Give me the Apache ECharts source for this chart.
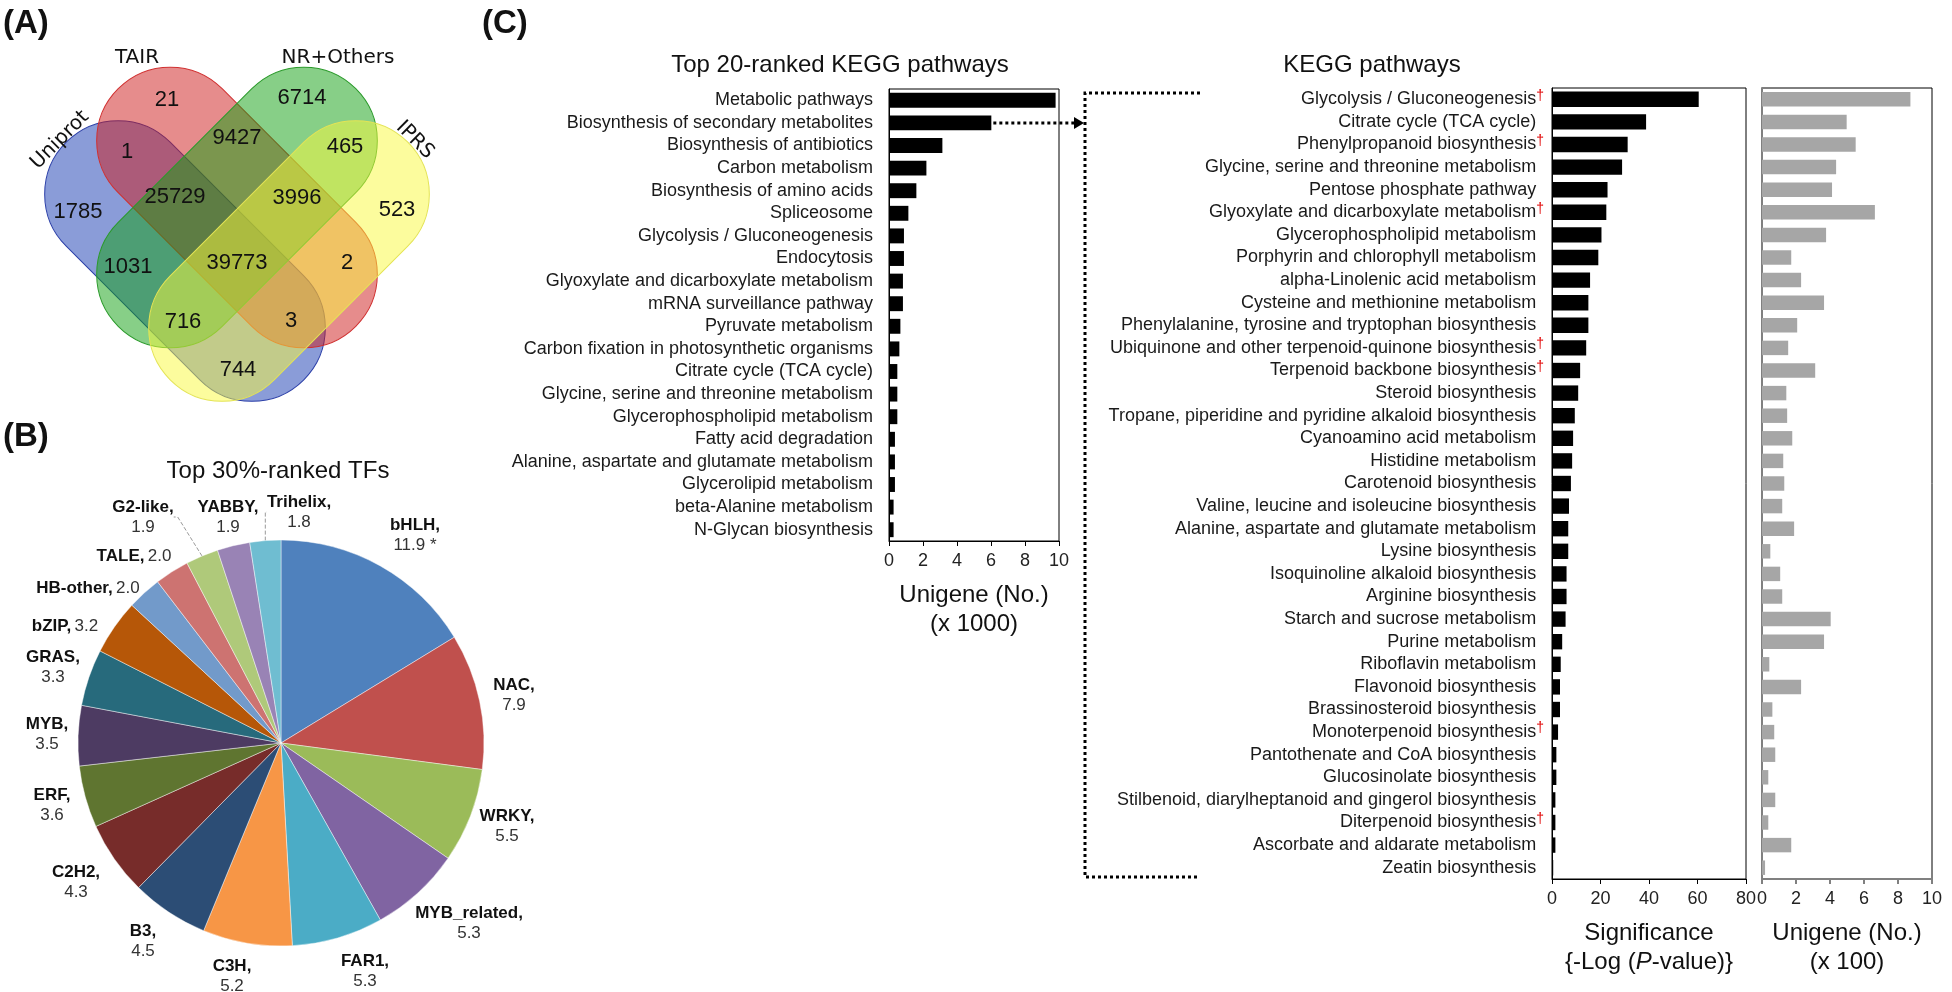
<!DOCTYPE html>
<html><head><meta charset="utf-8">
<script src="https://cdn.jsdelivr.net/npm/echarts@6/dist/echarts.min.js"></script>
<style>html,body{margin:0;padding:0;background:#fff}#c{width:1952px;height:992px}</style>
</head><body><div id="c"></div>
<script>
// ---------------- DATA ----------------
const vennSets = ['Uniprot', 'TAIR', 'NR+Others', 'IPRS'];
const vennCounts = [21, 6714, 1, 9427, 465, 1785, 25729, 3996, 523, 1031, 39773, 2, 716, 3, 744];

const tfNames = ['bHLH','NAC','WRKY','MYB_related','FAR1','C3H','B3','C2H2','ERF','MYB','GRAS','bZIP','HB-other','TALE','G2-like','YABBY','Trihelix'];
const tfValues = [11.9, 7.9, 5.5, 5.3, 5.3, 5.2, 4.5, 4.3, 3.6, 3.5, 3.3, 3.2, 2.0, 2.0, 1.9, 1.9, 1.8];
const tfNotes = [' *','','','','','','','','','','','','','','','',''];

const topCats = ['Metabolic pathways','Biosynthesis of secondary metabolites','Biosynthesis of antibiotics','Carbon metabolism','Biosynthesis of amino acids','Spliceosome','Glycolysis / Gluconeogenesis','Endocytosis','Glyoxylate and dicarboxylate metabolism','mRNA surveillance pathway','Pyruvate metabolism','Carbon fixation in photosynthetic organisms','Citrate cycle (TCA cycle)','Glycine, serine and threonine metabolism','Glycerophospholipid metabolism','Fatty acid degradation','Alanine, aspartate and glutamate metabolism','Glycerolipid metabolism','beta-Alanine metabolism','N-Glycan biosynthesis'];
const topUnigene = [9.80, 6.02, 3.14, 2.20, 1.61, 1.14, 0.88, 0.88, 0.82, 0.82, 0.67, 0.61, 0.49, 0.49, 0.49, 0.35, 0.35, 0.35, 0.27, 0.27];

const keggCats = ['Glycolysis / Gluconeogenesis','Citrate cycle (TCA cycle)','Phenylpropanoid biosynthesis','Glycine, serine and threonine metabolism','Pentose phosphate pathway','Glyoxylate and dicarboxylate metabolism','Glycerophospholipid metabolism','Porphyrin and chlorophyll metabolism','alpha-Linolenic acid metabolism','Cysteine and methionine metabolism','Phenylalanine, tyrosine and tryptophan biosynthesis','Ubiquinone and other terpenoid-quinone biosynthesis','Terpenoid backbone biosynthesis','Steroid biosynthesis','Tropane, piperidine and pyridine alkaloid biosynthesis','Cyanoamino acid metabolism','Histidine metabolism','Carotenoid biosynthesis','Valine, leucine and isoleucine biosynthesis','Alanine, aspartate and glutamate metabolism','Lysine biosynthesis','Isoquinoline alkaloid biosynthesis','Arginine biosynthesis','Starch and sucrose metabolism','Purine metabolism','Riboflavin metabolism','Flavonoid biosynthesis','Brassinosteroid biosynthesis','Monoterpenoid biosynthesis','Pantothenate and CoA biosynthesis','Glucosinolate biosynthesis','Stilbenoid, diarylheptanoid and gingerol biosynthesis','Diterpenoid biosynthesis','Ascorbate and aldarate metabolism','Zeatin biosynthesis'];
const keggDagger = [1,0,1,0,0,1,0,0,0,0,0,1,1,0,0,0,0,0,0,0,0,0,0,0,0,0,0,0,1,0,0,0,1,0,0];
const keggSignificance = [60.5, 38.8, 31.2, 28.9, 22.9, 22.4, 20.4, 19.1, 15.7, 15.0, 15.0, 14.1, 11.6, 10.8, 9.4, 8.7, 8.3, 7.8, 7.0, 6.7, 6.7, 6.0, 6.0, 5.6, 4.2, 3.6, 3.3, 3.3, 2.5, 1.8, 1.8, 1.4, 1.4, 1.4, 0.5];
const keggUnigene = [8.73, 4.98, 5.51, 4.36, 4.12, 6.64, 3.77, 1.72, 2.30, 3.65, 2.07, 1.54, 3.13, 1.43, 1.48, 1.78, 1.25, 1.31, 1.19, 1.89, 0.49, 1.07, 1.19, 4.04, 3.65, 0.43, 2.30, 0.61, 0.72, 0.78, 0.37, 0.78, 0.37, 1.72, 0.18];

// ---------------- LAYOUT / STYLE ----------------
const F = '"Liberation Sans", Arial, Helvetica, sans-serif';
const tfColors = ['#4F81BD','#C0504D','#9BBB59','#8064A2','#4BACC6','#F79646','#2C4D75','#772C2A','#5F7530','#4D3B62','#276A7C','#B65708','#729ACA','#CD7371','#AFC97A','#9983B5','#6FBDD1'];
const pieLabelPos = [[415,535],[514,695],[507,826],[469,923],[365,971],[232,976],[143,941],[76,882],[52,805],[47,734],[53,667],[65,626],[88,588],[134,556],[143,517],[228,517],[299,512]];
const pieOneLine = [0,0,0,0,0,0,0,0,0,0,0,1,1,1,0,0,0];
const pieGuide = [0,0,0,0,0,0,0,0,0,0,0,0,0,0,1,0,1];

const vennRegionPos = [[167,100],[302,98],[127,152],[237,138],[345,147],[78,212],[175,197],[297,198],[397,210],[128,267],[237,263],[347,263],[183,322],[291,321],[238,370]];
const vennLabelPos = [[60,140,Math.PI/4],[137,58,0],[338,58,0],[415,140,-Math.PI/4]];
const vennShapes = [
  {c:[185,261], rot:-Math.PI/4, fill:'rgba(21,57,177,0.5)', stroke:'#2b3fa8'},
  {c:[237,207.5], rot:-Math.PI/4, fill:'rgba(205,25,25,0.5)', stroke:'#d03030'},
  {c:[237,207.5], rot:Math.PI/4, fill:'rgba(15,160,15,0.5)', stroke:'#2a9a2a'},
  {c:[289,261], rot:Math.PI/4, fill:'rgba(250,250,60,0.5)', stroke:'#e4e455'}
];
const capL = 336, capW = 147;

const chart = echarts.init(document.getElementById('c'), null, {renderer:'canvas', width:1952, height:992});

function xAxisBase(grid, max, interval, name, color, width) {
  return {
    gridIndex: grid, type:'value', min:0, max:max, interval:interval,
    splitLine:{show:false},
    axisLine:{show:true, onZero:false, lineStyle:{color:color, width:width}},
    axisTick:{show:true, length:5, inside:false, lineStyle:{color:color, width:width}},
    axisLabel:{fontFamily:F, fontSize:18, color:'#222', margin:11},
    name:name, nameLocation:'middle', nameGap:40,
    nameTextStyle:{fontFamily:F, fontSize:24, lineHeight:29, color:'#111', verticalAlign:'top',
      rich:{a:{fontFamily:F, fontSize:24, lineHeight:29, color:'#111'}, i:{fontFamily:F, fontSize:24, lineHeight:29, fontStyle:'italic', color:'#111'}}}
  };
}

const option = {
  animation:false,
  backgroundColor:'#fff',
  textStyle:{fontFamily:F},
  grid:[
    {left:889, top:89, width:170, height:452, show:true, borderColor:'#000', borderWidth:1, containLabel:false},
    {left:1552, top:88, width:194, height:791, show:true, borderColor:'#000', borderWidth:1, containLabel:false},
    {left:1762, top:88, width:170, height:791, show:true, borderColor:'#000', borderWidth:1, containLabel:false}
  ],
  xAxis:[
    xAxisBase(0, 10, 2, 'Unigene (No.)\n(x 1000)', '#000', 1),
    xAxisBase(1, 80, 20, '{a|Significance}\n{a|{-Log (}{i|P}{a|-value)}}', '#000', 1),
    xAxisBase(2, 10, 2, 'Unigene (No.)\n(x 100)', '#808080', 2)
  ],
  yAxis:[
    {gridIndex:0, type:'category', data:topCats, inverse:true,
     axisLine:{show:true, onZero:false, lineStyle:{color:'#000'}}, axisTick:{show:false},
     axisLabel:{interval:0, fontFamily:F, fontSize:18, color:'#1a1a1a', margin:16}},
    {gridIndex:1, type:'category', data:keggCats, inverse:true,
     axisLine:{show:true, onZero:false, lineStyle:{color:'#000'}}, axisTick:{show:false},
     axisLabel:{interval:0, margin:8,
       formatter:function(v, i){ return '{t|' + v + '}{' + (keggDagger[i] ? 'd' : 'e') + '|†}'; },
       rich:{
         t:{fontFamily:F, fontSize:18, color:'#1a1a1a', lineHeight:21},
         d:{fontFamily:F, fontSize:14, color:'#e00000', lineHeight:14, verticalAlign:'top'},
         e:{fontFamily:F, fontSize:14, color:'rgba(0,0,0,0)', lineHeight:14, verticalAlign:'top'}
       }}},
    {gridIndex:2, type:'category', data:keggCats, inverse:true,
     axisLine:{show:true, onZero:false, lineStyle:{color:'#808080', width:2}}, axisTick:{show:false},
     axisLabel:{show:false}}
  ],
  series:[
    {type:'bar', xAxisIndex:0, yAxisIndex:0, data:topUnigene, barWidth:'66%', itemStyle:{color:'#000'}, silent:true},
    {type:'bar', xAxisIndex:1, yAxisIndex:1, data:keggSignificance, barWidth:'68%', itemStyle:{color:'#000'}, silent:true},
    {type:'bar', xAxisIndex:2, yAxisIndex:2, data:keggUnigene, barWidth:'64%', itemStyle:{color:'#a6a6a6'}, silent:true},
    {type:'pie', center:[281,743], radius:203, startAngle:90, clockwise:true, avoidLabelOverlap:false, silent:true,
     data: tfNames.map(function(n, i){ return {name:n, value:tfValues[i], itemStyle:{color:tfColors[i]},
        labelLine:{show:!!pieGuide[i], length:4, length2:4, lineStyle:{color:'#999', width:1, type:'dashed'}}}; }),
     itemStyle:{borderColor:'rgba(255,255,255,0.55)', borderWidth:0.8},
     label:{show:true, position:'outside',
       formatter:function(p){
         const i = p.dataIndex;
         const v = tfValues[i].toFixed(1) + tfNotes[i];
         return pieOneLine[i] ? ('{n|' + p.name + ',} {v|' + v + '}') : ('{n|' + p.name + ',}\n{v|' + v + '}');
       },
       rich:{
         n:{fontFamily:F, fontSize:17, fontWeight:'bold', color:'#111', lineHeight:20},
         v:{fontFamily:F, fontSize:17, color:'#333', lineHeight:20}
       }},
     labelLine:{show:false},
     labelLayout:function(p){
       const pos = pieLabelPos[p.dataIndex];
       return {x:pos[0], y:pos[1], align:'center', verticalAlign:'middle'};
     }}
  ]
};
chart.setOption(option);

// ---------------- ANNOTATIONS (graphic) ----------------
function txt(x, y, s, size, opts) {
  opts = opts || {};
  return {type:'text', x:x, y:y, rotation:opts.rot || 0, silent:true, z:100,
    style:{text:s, fontFamily:opts.family || F, fontSize:size, fontWeight:opts.bold ? 'bold' : 'normal',
      fill:opts.color || '#111', align:opts.align || 'center', verticalAlign:'middle',
      textAlign:opts.align || 'center', textVerticalAlign:'middle'}};
}
const g = [];
g.push(txt(3, 24, '(A)', 33, {bold:true, align:'left'}));
g.push(txt(3, 437, '(B)', 33, {bold:true, align:'left'}));
g.push(txt(482, 24, '(C)', 33, {bold:true, align:'left'}));
g.push(txt(278, 471, 'Top 30%-ranked TFs', 24));
g.push(txt(840, 65, 'Top 20-ranked KEGG pathways', 24));
g.push(txt(1372, 65, 'KEGG pathways', 24));
vennShapes.forEach(function(s){
  g.push({type:'rect', x:s.c[0], y:s.c[1], rotation:s.rot, silent:true, z:10,
    shape:{x:-capL/2, y:-capW/2, width:capL, height:capW, r:capW/2},
    style:{fill:s.fill, stroke:s.stroke, lineWidth:1}});
});
vennCounts.forEach(function(c, i){
  g.push(txt(vennRegionPos[i][0], vennRegionPos[i][1], String(c), 22, {color:'#111'}));
});
vennSets.forEach(function(s, i){
  const p = vennLabelPos[i];
  g.push(txt(p[0], p[1], s, 20, {rot:p[2], family:'"DejaVu Sans", sans-serif', color:'#111'}));
});
const arrowStart = chart.convertToPixel({gridIndex:0}, [topUnigene[1], 1]);
const bx = 1085, byTop = 93, byBot = 877, bxEnd = 1200;
g.push({type:'polyline', silent:true, z:50,
  shape:{points:[[arrowStart[0] + 2, arrowStart[1]], [bx - 10, arrowStart[1]]]},
  style:{stroke:'#000', lineWidth:3, lineDash:[3,3], fill:null}});
g.push({type:'polygon', silent:true, z:50,
  shape:{points:[[bx - 11, arrowStart[1] - 6], [bx - 1, arrowStart[1]], [bx - 11, arrowStart[1] + 6]]},
  style:{fill:'#000'}});
g.push({type:'polyline', silent:true, z:50,
  shape:{points:[[bxEnd, byTop], [bx, byTop], [bx, byBot], [bxEnd, byBot]]},
  style:{stroke:'#000', lineWidth:3, lineDash:[3,3], fill:null}});

chart.setOption({graphic:{elements:g}});
</script>
</body></html>
